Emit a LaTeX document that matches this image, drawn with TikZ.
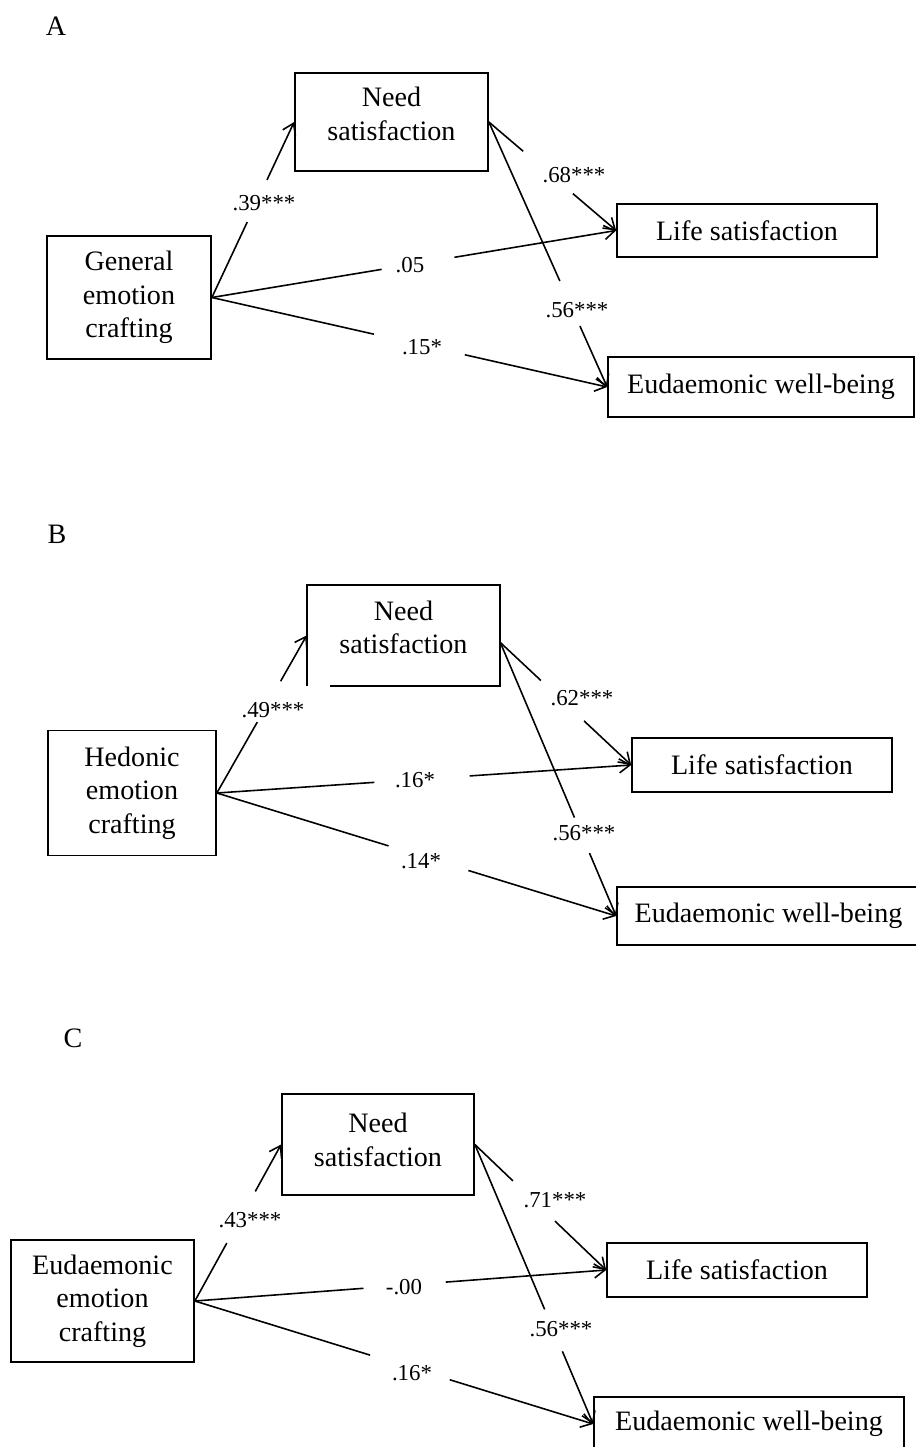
\documentclass[tikz,border=0pt]{standalone}
\usepackage{fontspec}
\setmainfont{Liberation Serif}
\usetikzlibrary{arrows.meta}
\newcommand{\gapcon}[4]{%
  \path (#1) -- (#2) coordinate[pos=#3] (g1) coordinate[pos=#4] (g2);
  \draw[con] (#1) -- (g1);
  \draw[arr] (g2) -- (#2);}
\begin{document}
\begin{tikzpicture}[x=0.02cm,y=-0.02cm,
  box/.style={draw, line width=1pt, inner sep=0pt, align=center, font=\fontsize{16}{19}\selectfont},
  plainbox/.style={inner sep=0pt},
  txt/.style={inner sep=0pt, align=center, font=\fontsize{16}{19}\selectfont},
  lbl/.style={inner sep=0pt, font=\fontsize{13}{15}\selectfont},
  con/.style={line width=0.9pt},
  arr/.style={con, -{Straight Barb[length=6pt,width=8pt]}},
  letter/.style={inner sep=0pt, font=\fontsize{16}{19}\selectfont}]
\fill[white] (0,0) rectangle (916,1447);
\clip (0,0) rectangle (916,1447);

% ---------------- Panel A ----------------
\node[letter] (LetA) at (56,26) {A};
\node[box, minimum width=3.28cm, minimum height=2.46cm] (GA) at (129,297.5) {General\\emotion\\crafting};
\node[box, minimum width=3.86cm, minimum height=1.96cm] (NA) at (391.5,122) {};
\node[txt] (NAt) at (391.5,114) {Need\\satisfaction};
\node[box, minimum width=5.2cm, minimum height=1.06cm] (LA) at (747,230.5) {Life satisfaction};
\node[box, minimum width=6.12cm, minimum height=1.2cm] (EA) at (761,387) {Eudaemonic well-being};

\gapcon{GA.east}{NA.west}{0.43}{0.67}
\gapcon{GA.east}{LA.west}{0.42}{0.60}
\gapcon{GA.east}{EA.west}{0.41}{0.64}
\gapcon{NA.east}{LA.west}{0.27}{0.66}
\gapcon{NA.east}{EA.west}{0.60}{0.77}

\node[lbl] (a39) at (264,203) {.39***};
\node[lbl] (a05) at (410,265) {.05};
\node[lbl] (a15) at (422,347) {.15*};
\node[lbl] (a68) at (574,175) {.68***};
\node[lbl] (a56) at (577,310) {.56***};

% ---------------- Panel B ----------------
\node[letter] (LetB) at (57,534) {B};
\node[box, minimum width=3.36cm, minimum height=2.5cm] (GB) at (132,793) {Hedonic\\emotion\\crafting};
\node[plainbox, minimum width=3.86cm, minimum height=2.02cm] (NB) at (403.5,635.5) {};
\draw[line width=1pt] ([xshift=0.46cm]NB.south west) -- (NB.south east) -- (NB.north east) -- (NB.north west) -- (NB.south west);
\node[txt] (NBt) at (403.5,627.5) {Need\\satisfaction};
\node[box, minimum width=5.2cm, minimum height=1.08cm] (LB) at (762,765) {Life satisfaction};
\node[box, minimum width=6.06cm, minimum height=1.16cm] (EB) at (768.5,916) {Eudaemonic well-being};

\gapcon{GB.east}{NB.west}{0.45}{0.71}
\gapcon{GB.east}{LB.west}{0.38}{0.61}
\gapcon{GB.east}{EB.west}{0.43}{0.63}
\gapcon{[yshift=-4pt]NB.east}{LB.west}{0.31}{0.64}
\gapcon{[yshift=-4pt]NB.east}{EB.west}{0.64}{0.77}

\node[lbl] (b49) at (273,710) {.49***};
\node[lbl] (b16) at (415,780) {.16*};
\node[lbl] (b14) at (421,861) {.14*};
\node[lbl] (b62) at (582,698) {.62***};
\node[lbl] (b56) at (584,833) {.56***};

% ---------------- Panel C ----------------
\node[letter] (LetC) at (73,1038) {C};
\node[box, minimum width=3.66cm, minimum height=2.44cm] (GC) at (102.5,1301) {Eudaemonic\\emotion\\crafting};
\node[box, minimum width=3.84cm, minimum height=2.02cm] (NC) at (378,1144.5) {};
\node[txt] (NCt) at (378,1140) {Need\\satisfaction};
\node[box, minimum width=5.2cm, minimum height=1.08cm] (LC) at (737,1270) {Life satisfaction};
\node[box, minimum width=6.2cm, minimum height=1.08cm] (EC) at (749,1424) {Eudaemonic well-being};

\gapcon{GC.east}{NC.west}{0.37}{0.70}
\gapcon{GC.east}{LC.west}{0.41}{0.61}
\gapcon{GC.east}{EC.west}{0.44}{0.64}
\gapcon{NC.east}{LC.west}{0.29}{0.61}
\gapcon{NC.east}{EC.west}{0.59}{0.74}

\node[lbl] (c43) at (250,1220) {.43***};
\node[lbl] (c00) at (404,1287) {-.00};
\node[lbl] (c16) at (412,1373) {.16*};
\node[lbl] (c71) at (555,1200) {.71***};
\node[lbl] (c56) at (561,1329) {.56***};
\end{tikzpicture}
\end{document}
